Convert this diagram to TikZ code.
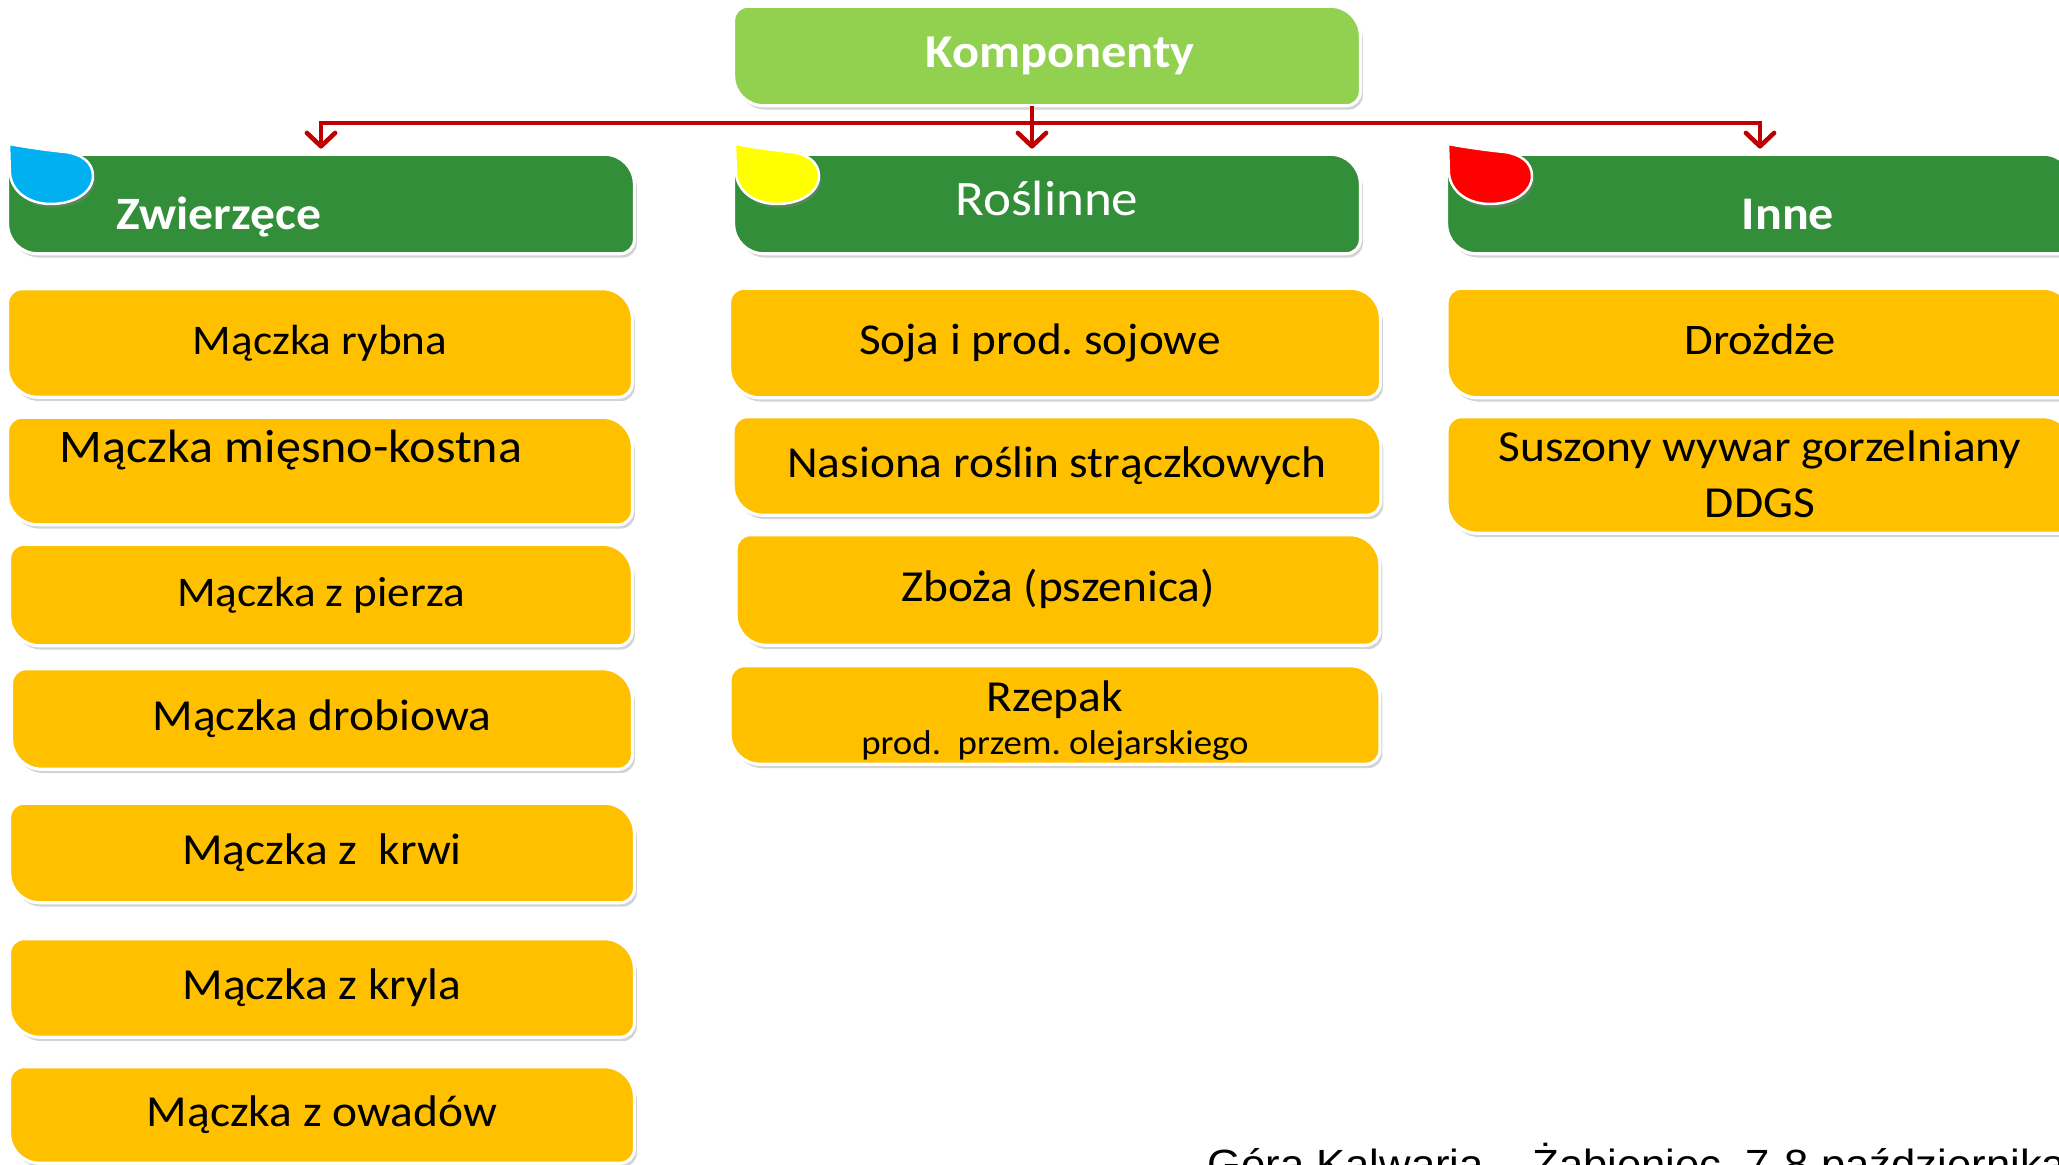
\documentclass[tikz,border=0pt]{standalone}
\usepackage{fontspec}
\setmainfont{Carlito}[FakeStretch=1.07]
\newfontfamily\datefont{Liberation Sans}[FakeStretch=1.07]
\usetikzlibrary{positioning}
\usetikzlibrary{arrows.meta}
\usetikzlibrary{shadows}
\usetikzlibrary{backgrounds}
\definecolor{lgreen}{RGB}{146,208,80}
\definecolor{dgreen}{RGB}{50,142,57}
\definecolor{amber}{RGB}{255,192,0}
\definecolor{linkred}{RGB}{192,0,0}
\definecolor{dropblue}{RGB}{0,176,240}
\definecolor{dropyellow}{RGB}{255,255,0}
\definecolor{dropred}{RGB}{255,0,0}
\frenchspacing

\begin{document}
\begin{tikzpicture}[x=0.01cm, y=-0.01cm,
    font=\fontsize{12.6}{15}\selectfont,
    box/.style={rectangle, inner sep=0pt, minimum width=6.23cm, minimum height=1cm, align=center,
        text height=0.8em, text depth=0.13em},
    line/.style={text height=0.8em, text depth=0.13em},
    head/.style={box, minimum width=6.25cm, minimum height=0.98cm, text=white},
    leaf/.style={fill=#1, draw=white, line width=0.9pt,
        drop shadow={shadow xshift=0.7pt, shadow yshift=-1.1pt, opacity=0.35}},
    tear/.style={fill=#1, draw=white, line width=0.7pt,
        drop shadow={shadow xshift=0.7pt, shadow yshift=-1.1pt, opacity=0.4}},
    link/.style={linkred, line width=1pt,
        -{Straight Barb[length=3.8pt, width=8pt, line width=1.3pt, round]}, shorten >=1.6pt}]
    \useasboundingbox (0,0) rectangle (2059,1165);

    % Top and the three groups
    \node[head, font=\fontsize{13.4}{16}\bfseries] (komp) at (1047,56) {\hspace*{0.26cm}Komponenty};
    \node[head] (zw) at (321,204) {};
    \node[head, font=\fontsize{14.1}{17}\selectfont] (ro) at (1047,204) {Roślinne};
    \node[head] (in) at (1760,204) {};
    \node[line, text=white, font=\fontsize{13.2}{16}\bfseries] (zwt) at (219,218) {Zwierzęce};
    \node[line, text=white, font=\fontsize{13.3}{16}\bfseries] (int) at (1788,218) {Inne};

    % Zwierzece
    \node[box, minimum height=1.07cm, font=\fontsize{12}{15}\selectfont] (zw1) at (320,343) {Mączka rybna};
    \node[box, minimum height=1.06cm] (zw2) at (320,471) {};
    \node[line, font=\fontsize{13.3}{16}\selectfont] (zw2t) at (291,451) {Mączka mięsno-kostna};
    \node[box, minimum width=6.21cm, font=\fontsize{12}{15}\selectfont] (zw3) at (321,595) {Mączka z pierza};
    \node[box, minimum width=6.19cm, minimum height=0.99cm] (zw4) at (322,719) {Mączka drobiowa};
    \node[box, minimum height=0.98cm] (zw5) at (322,853) {Mączka z~ krwi};
    \node[box, minimum height=0.97cm] (zw6) at (322,988) {Mączka z kryla};
    \node[box, minimum height=0.95cm] (zw7) at (322,1115) {Mączka z owadów};

    % Roslinne
    \node[box, minimum width=6.49cm, minimum height=1.08cm, font=\fontsize{12.55}{15}\selectfont]
        (ro1) at (1055,343) {\hspace*{-0.3cm}Soja i prod. sojowe};
    \node[box, minimum width=6.46cm, minimum height=0.97cm] (ro2) at (1057,466) {Nasiona roślin strączkowych};
    \node[box, minimum width=6.42cm, minimum height=1.09cm] (ro3) at (1058,590) {Zboża (pszenica)};
    \node[box, minimum width=6.48cm, minimum height=0.97cm, text height=23.5pt, text depth=1.3pt]
        (ro4) at (1055,715)
        {Rzepak\\[-3pt]{\fontsize{9.8}{12}\selectfont prod.~ przem. olejarskiego}};

    % Inne
    \node[box, minimum width=6.24cm, minimum height=1.08cm, font=\fontsize{12.4}{15}\selectfont]
        (in1) at (1760,343) {Drożdże};
    \node[box, minimum width=6.24cm, minimum height=1.15cm, text height=25.5pt, text depth=1.3pt]
        (in2) at (1760,475) {Suszony wywar gorzelniany\\[1pt]DDGS};

    % Box shapes behind the texts
    \begin{scope}[on background layer]
        \foreach \n/\c in {komp/lgreen, zw/dgreen, ro/dgreen, in/dgreen,
                zw1/amber, zw2/amber, zw3/amber, zw4/amber, zw5/amber, zw6/amber, zw7/amber,
                ro1/amber, ro2/amber, ro3/amber, ro4/amber, in1/amber, in2/amber} {
            \path[leaf=\c] (\n.north) [rounded corners=8.5pt] -- (\n.north east)
                [rounded corners=4pt] -- (\n.south east) [rounded corners=8.5pt] -- (\n.south west)
                [rounded corners=4pt] -- (\n.north west) -- cycle;
        }
    \end{scope}

    % Drops on the group headers
    \foreach \x/\c in {9/dropblue, 735/dropyellow, 1448/dropred} {
        \path[tear=\c, shift={(\x,144)}] (0,0) -- (1,30) .. controls (3,48) and (20,60) .. (42,60)
            .. controls (66,60) and (84,48) .. (84,32) .. controls (84,18) and (72,10) .. (56,8)
            .. controls (36,6) and (16,3) .. (0,0) -- cycle;
    }

    % Connectors
    \coordinate (hub) at (1032,123);
    \draw[link] (komp.south -| hub) -- (hub |- ro.north);
    \draw[link] (hub) -| (zw.north);
    \draw[link] (hub) -| (in.north);

    \node[anchor=base west, font=\datefont\fontsize{11.6}{14}\selectfont] (date) at (1195,1179)
        {Góra Kalwaria – Żabieniec, 7-8 października};
\end{tikzpicture}
\end{document}
